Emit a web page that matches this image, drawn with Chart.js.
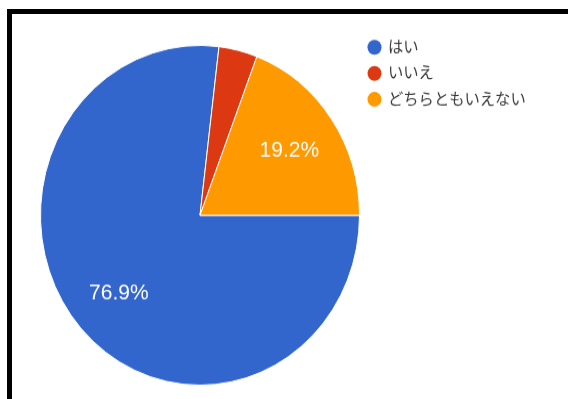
<!DOCTYPE html>
<html><head><meta charset="utf-8">
<script src="https://cdn.jsdelivr.net/npm/chart.js@4"></script>
<style>
html,body{margin:0;padding:0;background:#fff;width:568px;height:399px;overflow:hidden;position:relative}
#top{position:absolute;left:7px;top:9px;width:561px;height:5px;background:#000}
#left{position:absolute;left:7px;top:9px;width:5px;height:390px;background:#000}
#wrap{position:absolute;left:12px;top:14px;width:556px;height:362px;transform:scaleY(1.065);transform-origin:0 0}
canvas{display:block}
</style></head><body>
<div id="top"></div><div id="left"></div>
<div id="wrap"><canvas id="c" width="556" height="362"></canvas></div>
<script>
const categories = ['はい', 'いいえ', 'どちらともいえない'];
const percentages = [76.9, 3.9, 19.2];
const sliceColors = ['#3366cc', '#dc3912', '#ff9900'];

const sliceLabels = {
  id: 'sliceLabels',
  afterDatasetsDraw(chart) {
    const ctx = chart.ctx;
    const meta = chart.getDatasetMeta(0);
    const data = chart.data.datasets[0].data;
    ctx.save();
    ctx.fillStyle = '#ffffff';
    ctx.font = '21px "Liberation Sans", Arial, sans-serif';
    ctx.textAlign = 'center';
    ctx.textBaseline = 'middle';
    meta.data.forEach((arc, i) => {
      if (data[i] < 5) return;
      const mid = (arc.startAngle + arc.endAngle) / 2;
      const r = arc.outerRadius * 0.68;
      ctx.fillText(data[i].toFixed(1) + '%', arc.x + Math.cos(mid) * r, arc.y + Math.sin(mid) * r + 1);
    });
    ctx.restore();
  }
};

const sideLegend = {
  id: 'sideLegend',
  afterDraw(chart) {
    const ctx = chart.ctx;
    const labels = chart.data.labels;
    const cols = chart.data.datasets[0].backgroundColor;
    ctx.save();
    ctx.font = '15.3px "Liberation Sans", "Noto Sans CJK JP", sans-serif';
    ctx.textAlign = 'left';
    ctx.textBaseline = 'middle';
    labels.forEach((lab, i) => {
      const y = 31.3 + i * 24.4;
      ctx.beginPath();
      ctx.arc(362.5, y, 7, 0, Math.PI * 2);
      ctx.fillStyle = cols[i];
      ctx.fill();
      ctx.fillStyle = '#3a3a3a';
      ctx.fillText(lab, 376, y + 0.5);
    });
    ctx.restore();
  }
};

new Chart(document.getElementById('c'), {
  type: 'pie',
  data: {
    labels: categories,
    datasets: [{
      data: percentages,
      backgroundColor: sliceColors,
      borderColor: '#ffffff',
      borderWidth: 1
    }]
  },
  options: {
    responsive: false,
    animation: false,
    devicePixelRatio: 1,
    rotation: 90,
    layout: { padding: { left: 28, right: 208, top: 29, bottom: 13 } },
    plugins: {
      legend: { display: false },
      tooltip: { enabled: false }
    }
  },
  plugins: [sliceLabels, sideLegend]
});
</script>
</body></html>
